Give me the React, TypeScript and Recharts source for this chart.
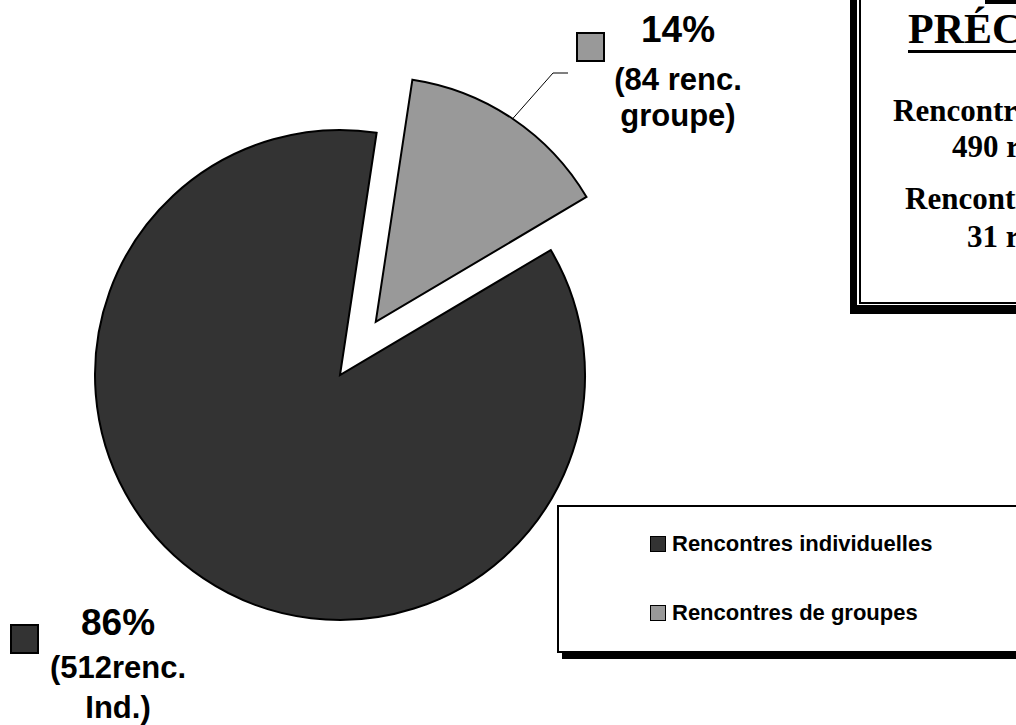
import React from 'react'
import { PieChart, Pie, Cell, Legend } from 'recharts'

// meetings by type
const categories = ['Rencontres individuelles', 'Rencontres de groupes']
const meetings = [512, 84]
const colors = ['#333333', '#999999']
const detailLines = [
  ['(512renc.', 'Ind.)'],
  ['(84 renc.', 'groupe)'],
]
const boxTitle = 'PRÉCISIONS'
const boxLines = ['Rencontres individuelles :', '490 rencontres', 'Rencontres de groupe :', '31 rencontres']

const W = 1016
const H = 725
const CX = 340
const CY = 375
const R = 245
const START = 81.4
const EXPLODE = 64

const data = categories.map((name, i) => ({ name, value: meetings[i] }))
const total = meetings.reduce((a, b) => a + b, 0)
const groupSpan = (meetings[1] / total) * 360
const groupMid = ((START + 360 - groupSpan / 2) * Math.PI) / 180
const DX = EXPLODE * Math.cos(groupMid)
const DY = -EXPLODE * Math.sin(groupMid)

const SANS = "'Liberation Sans', Arial, sans-serif"
const SERIF = "'Liberation Serif', 'Times New Roman', serif"

// where Excel put the data labels
const labelPos = [
  { sq: [11, 625], cx: 118, base: [635, 678, 718] },
  { sq: [577, 33], cx: 678, base: [42, 90, 126] },
]

const renderLabel = (p: any) => {
  const i = p.index
  const pos = labelPos[i]
  const pct = Math.round(p.percent * 100)
  let leader = null
  if (i === 1) {
    const rad = (p.midAngle * Math.PI) / 180
    const x0 = p.cx + p.outerRadius * Math.cos(rad)
    const y0 = p.cy - p.outerRadius * Math.sin(rad)
    leader = <polyline points={`${x0},${y0} 553,73 568,73`} fill="none" stroke="#000" strokeWidth={1} />
  }
  return (
    <g>
      {leader}
      <rect x={pos.sq[0]} y={pos.sq[1]} width={27} height={28} fill={colors[i]} stroke="#000" strokeWidth={2} />
      <text x={pos.cx} y={pos.base[0]} textAnchor="middle" fontFamily={SANS} fontWeight="bold" fontSize={37} fill="#000">
        {pct}%
      </text>
      {detailLines[i].map((t, k) => (
        <text key={k} x={pos.cx} y={pos.base[k + 1]} textAnchor="middle" fontFamily={SANS} fontWeight="bold" fontSize={31} fill="#000">
          {t}
        </text>
      ))}
    </g>
  )
}

const LegendBox = () => (
  <div
    style={{
      position: 'relative',
      width: 480,
      height: 144,
      border: '2px solid #000',
      background: '#fff',
      boxShadow: '5px 6px 0 #000',
      fontFamily: SANS,
      fontWeight: 'bold',
      fontSize: 22,
    }}
  >
    {categories.map((c, i) => (
      <div key={c} style={{ position: 'absolute', left: 91, top: 24 + i * 69, height: 26, display: 'flex', alignItems: 'center' }}>
        <span style={{ display: 'inline-block', width: 14, height: 14, background: colors[i], border: '1px solid #000', marginRight: 6 }} />
        <span>{c}</span>
      </div>
    ))}
  </div>
)

export default function App() {
  return (
    <div style={{ position: 'absolute', left: 0, top: 0, width: W, height: H, overflow: 'hidden', background: '#fff' }}>
      <PieChart width={W} height={H} margin={{ top: 0, right: 0, bottom: 0, left: 0 }}>
        <Pie
          data={data}
          dataKey="value"
          nameKey="name"
          cx={CX}
          cy={CY}
          outerRadius={R}
          startAngle={START}
          endAngle={START + 360}
          isAnimationActive={false}
        >
          {data.map((d, i) => (
            <Cell key={d.name} fill={i === 0 ? colors[0] : 'none'} stroke={i === 0 ? '#000' : 'none'} strokeWidth={2} />
          ))}
        </Pie>
        <Pie
          data={data}
          dataKey="value"
          nameKey="name"
          cx={CX + DX}
          cy={CY + DY}
          outerRadius={R}
          startAngle={START}
          endAngle={START + 360}
          label={renderLabel}
          labelLine={false}
          isAnimationActive={false}
        >
          {data.map((d, i) => (
            <Cell key={d.name} fill={i === 1 ? colors[1] : 'none'} stroke={i === 1 ? '#000' : 'none'} strokeWidth={2} />
          ))}
        </Pie>
        <Legend
          layout="horizontal"
          verticalAlign="middle"
          align="center"
          content={() => <LegendBox />}
          wrapperStyle={{ left: 557, top: 505, width: 484, height: 148 }}
        />
      </PieChart>
      <svg width={W} height={H} style={{ position: 'absolute', left: 0, top: 0, pointerEvents: 'none' }}>
        <rect x={850} y={-20} width={220} height={334} fill="#000" />
        <rect x={857} y={-20} width={220} height={325} fill="#fff" />
        <rect x={859} y={-20} width={220} height={324} fill="#000" />
        <rect x={861} y={-20} width={220} height={322} fill="#fff" />
        <rect x={985} y={0} width={40} height={4} fill="#000" />
        <text x={908} y={43} fontFamily={SERIF} fontWeight="bold" fontSize={42} fill="#000">
          {boxTitle}
        </text>
        <rect x={908} y={50} width={200} height={3} fill="#000" />
        {boxLines.map((t, k) => (
          <text
            key={k}
            x={[893, 952, 905, 967][k]}
            y={[121, 157, 209, 247][k]}
            fontFamily={SERIF}
            fontWeight="bold"
            fontSize={31}
            fill="#000"
          >
            {t}
          </text>
        ))}
      </svg>
    </div>
  )
}
